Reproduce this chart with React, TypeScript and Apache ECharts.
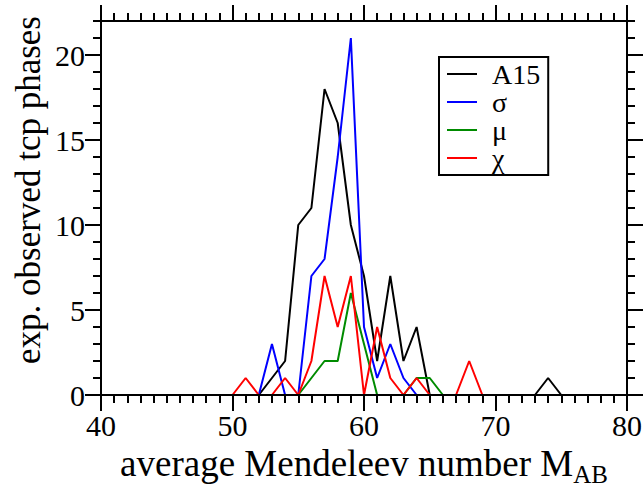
import React, { useEffect, useRef } from "react";
import * as echarts from "echarts";

const mendeleev = [50, 51, 52, 53, 54, 55, 56, 57, 58, 59, 60, 61, 62, 63, 64, 65, 66, 67, 68, 69, 70, 71, 72, 73, 74, 75];
const a15 = [null, null, 0, 1, 2, 10, 11, 18, 16, 10, 7, 2, 7, 2, 4, 0, 0, 0, 0, 0, 0, 0, 0, 0, 1, 0];
const sigma = [null, null, 0, 3, 0, 0, 7, 8, 14, 21, 4, 1, 3, 1, 0, null, null, null, null, null, null, null, null, null, null, null];
const mu = [null, null, null, null, null, 0, 1, 2, 2, 6, 3, 0, 0, 0, 1, 1, 0, null, null, null, null, null, null, null, null, null];
const chi = [0, 1, 0, 0, 1, 0, 2, 7, 4, 7, 0, 4, 1, 0, 1, 0, 0, 0, 2, 0, null, null, null, null, null, null];

const seriesNames = ["A15", "σ", "μ", "χ"];
const seriesColors = ["#000000", "#0000ff", "#008b00", "#ff0000"];
const seriesValues = [a15, sigma, mu, chi];

const xTicks = [40, 50, 60, 70, 80];
const yMajorTicks = [0, 5, 10, 15, 20];

const FONT = "Liberation Serif";

export default function App() {
  const ref = useRef<HTMLDivElement>(null);
  useEffect(() => {
    document.body.style.margin = "0";
    const chart = echarts.init(ref.current!, undefined, { renderer: "svg" });
    const axisLine = { show: true, onZero: false, lineStyle: { color: "#000", width: 2 } };
    const tickRich = { t: { fontFamily: FONT, fontSize: 30, color: "#000" } };
    const minorY = (pos: string) => ({
      type: "value",
      position: pos,
      min: 0,
      max: 22,
      interval: 1,
      axisLine,
      axisTick: { show: true, inside: false, length: 8, lineStyle: { color: "#000", width: 2 } },
      axisLabel: { show: false },
      splitLine: { show: false },
      z: 5,
    });
    const majorY = (pos: string, labels: boolean) => ({
      type: "value",
      position: pos,
      min: 0,
      max: 22,
      interval: 5,
      axisLine,
      axisTick: {
        show: true,
        inside: false,
        length: 16,
        customValues: yMajorTicks,
        lineStyle: { color: "#000", width: 2 },
      },
      axisLabel: {
        show: labels,
        customValues: yMajorTicks,
        margin: 16,
        fontFamily: FONT,
        fontSize: 30,
        color: "#000",
        formatter: (v: number) => `{t|${v}}`,
        rich: tickRich,
      },
      splitLine: { show: false },
      z: 5,
    });
    const xAx = (pos: string, labels: boolean) => ({
      type: "value",
      position: pos,
      min: xTicks[0],
      max: xTicks[xTicks.length - 1],
      interval: 10,
      axisLine,
      axisTick: { show: true, inside: false, length: 16, lineStyle: { color: "#000", width: 2 } },
      minorTick: { show: true, splitNumber: 10, length: 8, lineStyle: { color: "#000", width: 2 } },
      axisLabel: {
        show: labels,
        margin: 15,
        fontFamily: FONT,
        fontSize: 30,
        color: "#000",
        formatter: (v: number) => `{t|${v}}`,
        rich: tickRich,
      },
      splitLine: { show: false },
      minorSplitLine: { show: false },
      z: 5,
      ...(labels
        ? {
            name: "{m|average Mendeleev number M}{s|AB}",
            nameLocation: "middle",
            nameGap: 39,
            nameTextStyle: {
              rich: {
                m: { fontFamily: FONT, fontSize: 37, color: "#000" },
                s: { fontFamily: FONT, fontSize: 25, color: "#000", padding: [22, 0, 0, 0] },
              },
            },
          }
        : {}),
    });

    chart.setOption({
      animation: false,
      backgroundColor: "#fff",
      textStyle: { fontFamily: FONT, color: "#000" },
      grid: { left: 101, right: 17, top: 21, bottom: 91, outerBoundsMode: "none", containLabel: false },
      xAxis: [xAx("bottom", true), xAx("top", false)],
      yAxis: [majorY("left", true), minorY("left"), majorY("right", false), minorY("right")],
      legend: {
        orient: "vertical",
        left: 439,
        top: 57,
        padding: [3, 8, 3, 8],
        borderColor: "#000",
        borderWidth: 2,
        icon: "rect",
        itemWidth: 30,
        itemHeight: 2,
        itemGap: 0,
        textStyle: {
          fontFamily: FONT,
          fontSize: 28,
          color: "#000",
          padding: [0, 0, 0, 10],
        },
        data: seriesNames,
      },
      graphic: [
        {
          type: "text",
          x: 28,
          y: 190,
          rotation: Math.PI / 2,
          style: {
            text: "exp. observed tcp phases",
            fontFamily: FONT,
            fontSize: 35,
            fill: "#000",
            textAlign: "center",
            textVerticalAlign: "middle",
          },
        },
      ],
      series: seriesNames.map((name, i) => ({
        name,
        type: "line",
        xAxisIndex: 0,
        yAxisIndex: 0,
        symbol: "none",
        lineStyle: { color: seriesColors[i], width: 2 },
        itemStyle: { color: seriesColors[i] },
        data: mendeleev.map((x, k) => [x, seriesValues[i][k]]).filter((d) => d[1] !== null),
        z: 2,
      })),
    });
    return () => chart.dispose();
  }, []);
  return <div ref={ref} style={{ width: 644, height: 486 }} />;
}
